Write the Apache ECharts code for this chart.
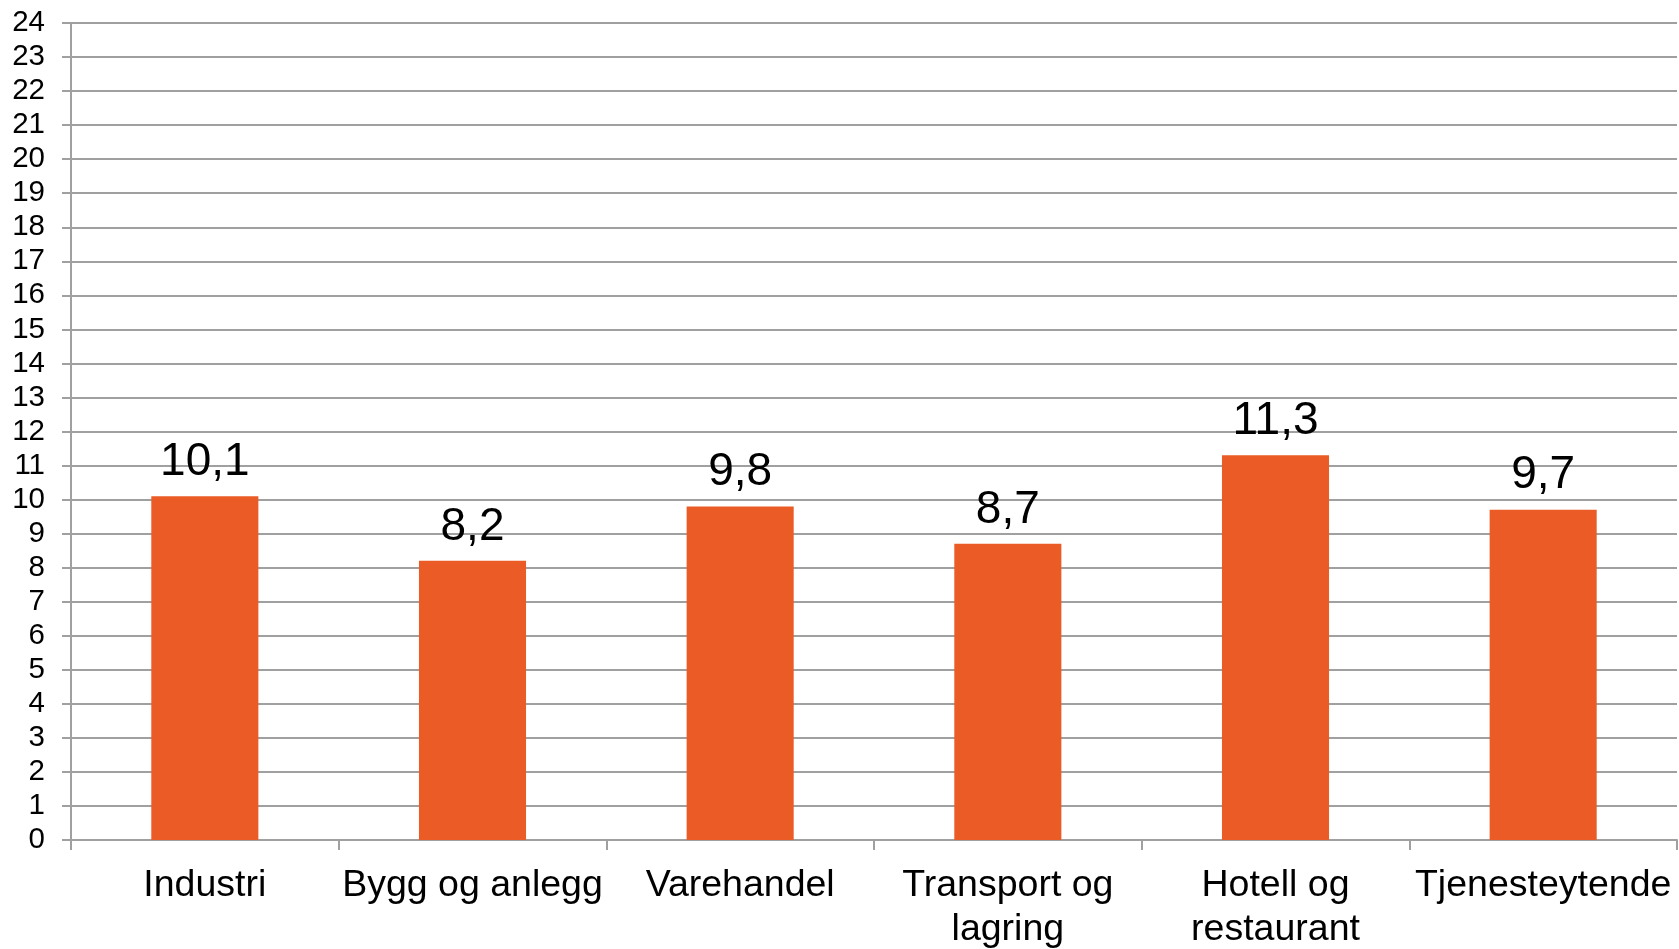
<!DOCTYPE html>
<html>
<head>
<meta charset="utf-8">
<script src="https://cdn.jsdelivr.net/npm/echarts@6/dist/echarts.min.js"></script>
<style>
html,body{margin:0;padding:0;background:#fff;}
#chart{width:1679px;height:949px;}
</style>
</head>
<body>
<div id="chart"></div>
<script>
const categories = ['Industri', 'Bygg og anlegg', 'Varehandel', 'Transport og\nlagring', 'Hotell og\nrestaurant', 'Tjenesteytende'];
const values = [10.1, 8.2, 9.8, 8.7, 11.3, 9.7];
const yMin = 0, yMax = 24, yStep = 1;

const chart = echarts.init(document.getElementById('chart'));
const font = '"Liberation Sans", Arial, sans-serif';
chart.setOption({
  animation: false,
  backgroundColor: '#ffffff',
  grid: { left: 71, right: 2, top: 23, bottom: 109, containLabel: false, outerBoundsMode: 'none' },
  xAxis: {
    type: 'category',
    data: categories,
    axisLine: { show: true, lineStyle: { color: '#a0a0a0', width: 2 } },
    axisTick: { show: true, length: 10, lineStyle: { color: '#a0a0a0', width: 2 } },
    axisLabel: { color: '#000', fontFamily: font, fontSize: 37.5, lineHeight: 44, margin: 24, interval: 0 },
    splitLine: { show: false }
  },
  yAxis: {
    type: 'value',
    min: yMin, max: yMax, interval: yStep,
    axisLine: { show: true, lineStyle: { color: '#a0a0a0', width: 2 } },
    axisTick: { show: true, length: 9, lineStyle: { color: '#a0a0a0', width: 2 } },
    axisLabel: { color: '#000', fontFamily: font, fontSize: 29.5, margin: 26 },
    splitLine: { show: true, lineStyle: { color: '#a0a0a0', width: 2 } }
  },
  series: [{
    type: 'bar',
    data: values,
    barWidth: '40%',
    itemStyle: { color: '#EA5B25' },
    label: {
      show: true,
      position: 'top',
      distance: 11,
      color: '#000',
      fontFamily: font,
      fontSize: 46,
      formatter: p => String(p.value).replace('.', ',')
    }
  }]
});
</script>
</body>
</html>
